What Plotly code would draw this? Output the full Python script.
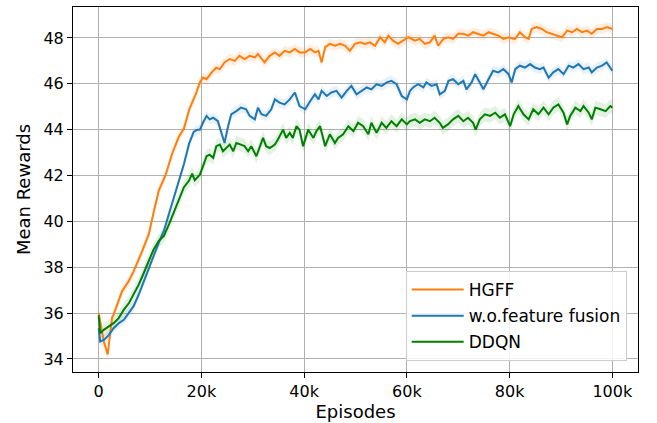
import plotly.graph_objects as go

# ---- data (episodes in thousands, mean rewards) ----
hgff_k = [0, 1, 1.76, 2.6, 2.9, 4.55, 5.86, 6.83, 8.46, 9.76, 10.7, 11.7, 13, 14.3, 15.6, 16.6, 17.6, 18.9,
          19.7, 20.3, 21, 22, 22.9, 23.6, 24.5, 25.5, 26.5, 27.4, 28.4, 29.4, 30.4, 31, 32.3, 33.3, 34.3, 35.2,
          36.2, 37.2, 38.2, 39.1, 40.2, 41.2, 42.1, 42.8, 43.4, 44.1, 45, 46, 47, 48, 48.9, 49.9, 50.9, 51.8,
          52.8, 53.8, 54.8, 55.7, 56.4, 57.3, 58.3, 59.3, 60.3, 61.6, 62.5, 63.5, 64.5, 65.4, 66.1, 67.1, 68.1,
          69, 70, 71, 72, 72.9, 73.9, 74.9, 75.9, 76.8, 77.8, 78.8, 79.8, 80.7, 81.1, 82, 83, 83.7, 84.3, 85.3,
          86.3, 87.2, 88.2, 89.2, 90.2, 91.2, 92.2, 93.1, 94.1, 95.1, 96, 97, 98, 99, 100]
hgff_v = [36.0, 34.76, 34.2, 35.8, 35.93, 36.95, 37.4, 37.83, 38.7, 39.44, 40.4, 41.34, 42.0, 42.95, 43.69, 44.05,
          44.86, 45.55, 46.06, 46.27, 46.2, 46.5, 46.7, 46.64, 46.93, 47.08, 47.0, 47.22, 47.08, 47.22, 47.15, 47.3,
          46.93, 47.22, 47.37, 47.22, 47.44, 47.37, 47.52, 47.37, 47.37, 47.52, 47.37, 47.44, 46.93, 47.6, 47.74,
          47.66, 47.74, 47.66, 47.44, 47.74, 47.81, 47.74, 47.81, 47.66, 48.03, 47.81, 48.1, 47.88, 47.74, 47.88,
          48.03, 47.88, 47.96, 47.74, 47.81, 48.1, 47.66, 47.96, 48.03, 47.96, 48.18, 48.18, 48.1, 48.25, 48.18,
          48.1, 48.25, 48.18, 48.1, 47.96, 48.03, 47.96, 47.96, 48.25, 48.03, 47.96, 48.39, 48.47, 48.39, 48.25,
          48.18, 48.1, 48.03, 48.32, 48.25, 48.39, 48.25, 48.32, 48.18, 48.39, 48.39, 48.47, 48.39]

wo_k = [0, 0.3, 1, 2, 2.9, 3.9, 4.9, 5.9, 6.8, 7.8, 8.8, 9.8, 10.7, 11.7, 12.7, 13.7, 14.6, 15.6, 16.6, 17.6,
        18.5, 19.2, 19.7, 20.3, 21, 21.6, 22.3, 23.2, 23.9, 24.5, 25.2, 25.8, 26.8, 27.7, 28.7, 29.4, 30.4, 31,
        31.7, 32.6, 33.6, 34.3, 35.2, 36.2, 37.2, 38.2, 39.1, 40.2, 41.2, 42.1, 42.8, 43.4, 44.4, 45.3, 46.3,
        47.3, 48.3, 49.2, 50.2, 51.2, 52.2, 53.1, 54.1, 55.1, 56.1, 57, 58, 59, 60, 60.6, 61.2, 62.2, 63.2, 63.8,
        64.8, 65.8, 66.4, 67.4, 68.1, 69, 70, 71, 71.6, 72.6, 73.3, 74.2, 74.9, 75.9, 76.8, 77.8, 78.8, 79.8,
        80.4, 81.1, 82, 83, 84, 84.9, 85.9, 86.6, 87.6, 88.5, 89.5, 90.5, 91.5, 92.4, 93.4, 94.4, 95.4, 96, 97,
        98, 98.9, 100]
wo_v = [35.34, 34.76, 34.83, 35.05, 35.34, 35.56, 35.71, 36.0, 36.3, 36.81, 37.39, 37.98, 38.56, 39.07, 39.59,
        40.32, 41.05, 41.78, 42.5, 43.39, 43.9, 44.0, 44.0, 44.3, 44.6, 44.45, 44.52, 44.37, 43.86, 43.42, 44.15,
        44.67, 44.81, 44.96, 44.89, 44.6, 44.45, 44.96, 44.67, 44.6, 44.89, 45.32, 45.18, 45.1, 45.32, 45.62,
        45.03, 44.89, 45.25, 45.54, 45.32, 45.69, 45.47, 45.62, 45.69, 45.4, 45.69, 45.91, 45.54, 45.69, 45.84,
        45.76, 45.98, 45.91, 46.06, 46.13, 45.98, 45.47, 45.32, 45.69, 45.84, 45.98, 45.84, 46.06, 45.91, 45.98,
        45.54, 45.69, 46.13, 46.2, 45.98, 46.13, 45.76, 46.06, 46.42, 46.06, 45.76, 46.2, 46.57, 46.5, 46.64,
        46.42, 46.06, 46.64, 46.79, 46.71, 46.86, 46.71, 46.64, 46.71, 46.27, 46.5, 46.64, 46.42, 46.79, 46.71,
        46.86, 46.64, 46.71, 46.5, 46.71, 46.79, 46.93, 46.57]

ddqn_k = [0, 0.3, 1, 2, 2.9, 3.9, 4.9, 5.9, 6.8, 7.8, 8.8, 9.8, 10.7, 11.7, 12.7, 13.7, 14.6, 15.6, 16.6, 17.6,
          18.2, 18.7, 19.7, 20.3, 21, 21.6, 22.3, 22.9, 23.6, 24.2, 24.8, 25.5, 26.2, 26.8, 27.7, 28.4, 29.1,
          29.7, 30.7, 31.3, 32, 32.6, 33.3, 34.3, 34.9, 35.9, 36.5, 37.2, 37.8, 38.5, 39.1, 39.8, 40.8, 41.8,
          42.4, 43.1, 44.1, 45, 46, 46.6, 47.6, 48.6, 49.6, 50.5, 51.5, 52.5, 53.1, 54.1, 55.1, 56, 57, 58, 59,
          60, 60.6, 61.6, 62.5, 63.5, 64.5, 65.4, 66.4, 67, 68, 69, 70, 71, 71.9, 72.9, 73.4, 74.2, 75.2, 76.2,
          77.2, 78.1, 79.1, 80.1, 80.8, 81.7, 82.7, 83.7, 84.6, 85.6, 86.6, 87.6, 88.5, 89.5, 90.5, 91.2, 91.8,
          92.8, 93.8, 94.4, 95.4, 96, 96.7, 97.7, 98.7, 99.6, 100]
ddqn_v = [35.9, 35.12, 35.27, 35.41, 35.56, 35.78, 36.15, 36.44, 36.81, 37.24, 37.76, 38.27, 38.78, 39.15, 39.37,
          39.88, 40.39, 40.9, 41.49, 41.78, 42.08, 41.8, 42.04, 42.4, 42.84, 42.91, 42.77, 43.28, 43.35, 43.06,
          43.2, 43.35, 43.06, 43.42, 43.35, 43.28, 43.06, 43.28, 42.84, 43.2, 43.64, 43.28, 43.2, 43.35, 43.57,
          44.0, 43.64, 43.86, 43.64, 44.15, 44.0, 43.28, 44.0, 43.64, 43.94, 44.15, 43.28, 43.8, 43.42, 43.64,
          43.8, 44.15, 43.94, 44.3, 44.15, 43.8, 44.3, 43.86, 44.3, 44.08, 44.37, 44.15, 44.45, 44.23, 44.37,
          44.45, 44.3, 44.45, 44.37, 44.52, 44.3, 44.08, 44.23, 44.45, 44.6, 44.37, 44.52, 44.3, 44.0, 44.45,
          44.67, 44.6, 44.74, 44.52, 44.67, 44.15, 44.67, 45.03, 44.67, 44.45, 44.89, 44.67, 44.96, 44.67, 44.96,
          45.1, 44.74, 44.23, 44.6, 44.96, 44.81, 45.03, 44.74, 44.45, 44.96, 44.89, 44.81, 45.03, 44.96]

# half-width of the shaded spread for each method
spread = {"HGFF": 0.22, "w.o.feature fusion": 0.22, "DDQN": 0.3}

x_tick_vals = [0, 20000, 40000, 60000, 80000, 100000]
x_tick_text = ["0", "20k", "40k", "60k", "80k", "100k"]
y_tick_vals = [34, 36, 38, 40, 42, 44, 46, 48]

series = [
    ("HGFF", hgff_k, hgff_v, "#ff7f0e", "rgba(255,127,14,0.13)"),
    ("w.o.feature fusion", wo_k, wo_v, "#1f77b4", "rgba(31,119,180,0.10)"),
    ("DDQN", ddqn_k, ddqn_v, "#008000", "rgba(0,128,0,0.11)"),
]

fig = go.Figure()
for name, ks, vs, col, fillcol in series:
    xs = [k * 1000 for k in ks]
    hw = spread[name]
    upper = [v + hw for v in vs]
    lower = [v - hw for v in vs]
    fig.add_trace(go.Scatter(x=xs + xs[::-1], y=upper + lower[::-1], fill="toself",
                             fillcolor=fillcol, line=dict(width=0), mode="lines",
                             showlegend=False, hoverinfo="skip"))
for i, (name, ks, vs, col, fillcol) in enumerate(series):
    xs = [k * 1000 for k in ks]
    fig.add_trace(go.Scatter(x=xs, y=vs, mode="lines", name=name,
                             line=dict(color=col, width=2), legendgroup=str(i)))

axis_common = dict(showline=True, linecolor="black", linewidth=1, mirror=True,
                   ticks="outside", ticklen=5, tickcolor="black", automargin=False,
                   showgrid=True, gridcolor="#b0b0b0", gridwidth=1, zeroline=False,
                   tickfont=dict(size=16, color="black"))

fig.update_layout(
    width=657, height=423,
    margin=dict(l=73, r=19, t=7, b=51),
    paper_bgcolor="white", plot_bgcolor="white",
    font=dict(family="DejaVu Sans", color="black"),
    xaxis=dict(range=[-5000, 105000], tickvals=x_tick_vals, ticktext=x_tick_text,
               title=dict(text="Episodes", font=dict(size=18), standoff=4), **axis_common),
    yaxis=dict(range=[33.43, 49.35], tickvals=y_tick_vals,
               title=dict(text="Mean Rewards", font=dict(size=18), standoff=8), **axis_common),
    legend=dict(x=0.98, y=0.03, xanchor="right", yanchor="bottom",
                bgcolor="rgba(255,255,255,0.85)", bordercolor="#cccccc", borderwidth=1,
                font=dict(size=17), traceorder="grouped", tracegroupgap=1, itemwidth=52),
)

fig.write_html("out.html")
